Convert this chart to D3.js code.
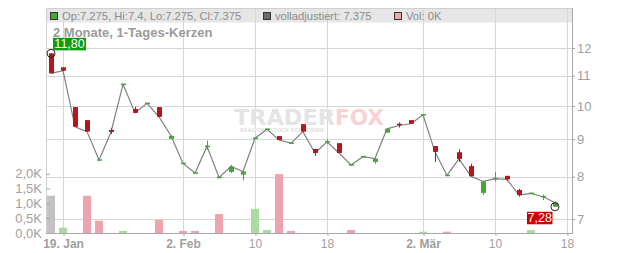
<!DOCTYPE html>
<html>
<head>
<meta charset="utf-8">
<script src="https://cdn.jsdelivr.net/npm/d3@7"></script>
<style>
  body { margin: 0; background: #fff; }
  svg { display: block; font-family: "Liberation Sans", Arial, sans-serif; }
</style>
</head>
<body>
<svg id="chart" width="632" height="253"></svg>
<script>
// trading sessions (the last one, 18.03, has no candle yet; it only carries a tick)
const sessions = ["16.01","19.01","20.01","21.01","22.01","23.01","26.01","27.01","28.01","29.01","30.01",
  "02.02","03.02","04.02","05.02","06.02","09.02","10.02","11.02","12.02","13.02","16.02","17.02","18.02",
  "19.02","20.02","23.02","24.02","25.02","26.02","27.02",
  "02.03","03.03","04.03","05.03","06.03","09.03","10.03","11.03","12.03","13.03","16.03","17.03","18.03"];

const opens  = [11.80,11.29,9.96,9.56,8.43,9.27,10.70,9.90,10.08,9.96,9.01,8.34,8.09,8.79,7.98,8.12,8.05,9.03,9.29,9.09,8.89,9.44,8.73,8.93,8.89,8.30,8.52,8.38,9.19,9.43,9.56,9.72,8.81,8.03,8.64,8.27,7.60,7.95,8.02,7.67,7.59,7.50,7.275];
const highs  = [11.80,11.29,9.96,9.56,8.43,9.32,10.70,9.97,10.08,9.96,9.10,8.34,8.09,8.96,7.98,8.30,8.13,9.03,9.29,9.09,8.89,9.44,8.73,9.00,8.89,8.30,8.52,8.47,9.30,9.49,9.56,9.72,8.81,8.03,8.72,8.33,7.88,8.12,8.02,7.70,7.59,7.56,7.40];
const lows   = [11.08,11.17,9.36,9.22,8.43,9.15,10.70,9.78,10.08,9.66,9.01,8.34,8.09,8.70,7.98,8.09,7.91,9.03,9.29,8.98,8.89,9.22,8.54,8.87,8.62,8.30,8.52,8.33,9.19,9.34,9.45,9.72,8.38,8.03,8.38,8.01,7.55,7.88,7.89,7.51,7.59,7.43,7.275];
const closes = [11.08,11.17,9.36,9.22,8.43,9.21,10.70,9.78,10.08,9.66,9.10,8.34,8.09,8.80,7.98,8.26,8.13,9.03,9.29,8.98,8.89,9.22,8.62,8.93,8.62,8.30,8.52,8.47,9.30,9.40,9.45,9.72,8.65,8.03,8.46,8.01,7.88,7.95,7.93,7.55,7.59,7.51,7.375];
const volumes = [1260,180,0,1260,415,0,70,0,0,440,0,70,70,0,640,0,0,810,100,1990,70,0,0,0,0,100,0,0,0,0,0,45,0,45,0,0,0,0,0,0,100,0,0];

const priceTicks = [7, 8, 9, 10, 11, 12];
const volTicks = [0, 500, 1000, 1500, 2000];
const tickSessions = ["19.01","02.02","10.02","18.02","02.03","10.03","18.03"];
const tickLabels = ["19. Jan","2. Feb","10","18","2. Mär","10","18"];

const title = "2 Monate, 1-Tages-Kerzen";
const legendItems = [
  { text: "Op:7.275, Hi:7.4, Lo:7.275, Cl:7.375", color: "#44a834" },
  { text: "volladjustiert: 7.375", color: "#6a6a6a" },
  { text: "Vol: 0K", color: "#f0a4ac" }
];

const RED = "#b5161c", GREEN = "#43a836";
const VOL_RED = "#eea4ac", VOL_GREEN = "#a9dba2", VOL_GRAY = "#c2c2c2";
const TXT = "#a0a0a0";

const L = 46, R = 572, T = 8, B = 233;
const svg = d3.select("#chart");

const x = d3.scaleLinear().domain([-0.42, sessions.length - 1 + 0.42]).range([L, R]);
const y = d3.scaleLog().domain([7, 12]).range([219, 48]);
const yv = d3.scaleLinear().domain([0, 2000]).range([B, 173.8]);

const candles = closes.map((c, i) => ({ i, o: opens[i], h: highs[i], l: lows[i], c, v: volumes[i] }));

// legend band
svg.append("rect").attr("x", L).attr("y", T).attr("width", R - L).attr("height", 14.5).attr("fill", "#e6e6e6");

// grid
const tickIdx = tickSessions.map((s) => sessions.indexOf(s));
svg.append("g").selectAll("line").data(tickIdx).join("line")
  .attr("x1", (d) => x(d) + 0.5).attr("x2", (d) => x(d) + 0.5)
  .attr("y1", T).attr("y2", B).attr("stroke", "#d6d6d6");
svg.append("g").selectAll("line").data(priceTicks).join("line")
  .attr("x1", L).attr("x2", R)
  .attr("y1", (d) => Math.round(y(d)) + 0.5).attr("y2", (d) => Math.round(y(d)) + 0.5)
  .attr("stroke", "#d6d6d6");

// frame
svg.append("rect").attr("x", L + 0.5).attr("y", T + 0.5).attr("width", R - L).attr("height", B - T)
  .attr("fill", "none").attr("stroke", "#cfcfcf");

// watermark
const wm = svg.append("g").attr("font-family", "'DejaVu Sans', sans-serif").attr("font-weight", "bold");
wm.append("text").attr("x", 234).attr("y", 124.5).attr("font-size", 22).attr("fill", "#e4e4e4")
  .attr("textLength", 101).attr("lengthAdjust", "spacingAndGlyphs").text("TRADER");
wm.append("text").attr("x", 335).attr("y", 124.5).attr("font-size", 22).attr("fill", "#f8d2d4")
  .attr("textLength", 49).attr("lengthAdjust", "spacingAndGlyphs").text("FOX");
wm.append("text").attr("x", 240).attr("y", 132).attr("font-size", 5.5).attr("fill", "#e2e2e2")
  .attr("textLength", 84).attr("lengthAdjust", "spacingAndGlyphs").text("REALTIME STOCK SCREENING");

// volume bars
svg.append("g").selectAll("rect").data(candles.filter((d) => d.v > 0)).join("rect")
  .attr("x", (d) => x(d.i) - 4).attr("width", 8)
  .attr("y", (d) => yv(d.v)).attr("height", (d) => B - yv(d.v))
  .attr("fill", (d) => d.i === 0 ? VOL_GRAY : (d.c >= closes[d.i - 1] ? VOL_GREEN : VOL_RED));

// close line
svg.append("path").datum(candles)
  .attr("d", d3.line().x((d) => x(d.i)).y((d) => y(d.c)))
  .attr("fill", "none").attr("stroke", "#808080").attr("stroke-width", 1.2);

// candles
const cg = svg.append("g").selectAll("g").data(candles).join("g")
  .attr("fill", (d) => d.c >= d.o ? GREEN : RED)
  .attr("stroke", (d) => d.c >= d.o ? GREEN : RED);
cg.append("line")
  .attr("x1", (d) => Math.round(x(d.i)) + 0.5).attr("x2", (d) => Math.round(x(d.i)) + 0.5)
  .attr("y1", (d) => y(d.h)).attr("y2", (d) => y(d.l)).attr("stroke-width", 1);
cg.append("rect")
  .attr("stroke", "none")
  .attr("x", (d) => Math.round(x(d.i)) - 2).attr("width", 5)
  .attr("y", (d) => Math.min(y(d.o), y(d.c)) - (Math.abs(y(d.o) - y(d.c)) < 1.5 ? 0.75 : 0))
  .attr("height", (d) => Math.max(1.5, Math.abs(y(d.o) - y(d.c))));

// axes
const fmtK = (v) => (v / 1000).toFixed(1).replace(".", ",") + "K";
const ay = svg.append("g").attr("transform", `translate(${R},0)`)
  .call(d3.axisRight(y).tickValues(priceTicks).tickFormat(d3.format("d")).tickSizeInner(3).tickSizeOuter(0).tickPadding(2));
const av = svg.append("g").attr("transform", `translate(${L},0)`)
  .call(d3.axisLeft(yv).tickValues(volTicks).tickFormat(fmtK).tickSizeInner(-4).tickSizeOuter(0).tickPadding(4));
const ax = svg.append("g").attr("transform", `translate(0,${B})`)
  .call(d3.axisBottom(x).tickValues(tickIdx).tickFormat((d, k) => tickLabels[k]).tickSizeInner(3).tickSizeOuter(0).tickPadding(3));
ay.select(".domain").attr("d", `M0.5,${T}V${B}`);
av.select(".domain").remove();
ax.select(".domain").attr("d", `M${L},0.5H${R + 1}`);
[ay, av, ax].forEach((g) => {
  g.attr("font-family", null).attr("font-size", null);
  g.selectAll(".domain, .tick line").attr("stroke", "#a8a8a8");
  g.selectAll("text").attr("fill", TXT).attr("font-size", 13);
});
ax.selectAll("text").attr("font-size", 12)
  .attr("font-weight", (d, k) => /[A-Za-zä]/.test(tickLabels[k]) ? "bold" : "normal");
ax.selectAll(".tick line").attr("transform", "translate(0.5,0)");

// legend
let lx = L + 4;
const legendX = [L + 4, 263, 394];
legendItems.forEach((it, k) => {
  lx = legendX[k];
  svg.append("rect").attr("x", lx + 0.5).attr("y", 12.5).attr("width", 7).attr("height", 7)
    .attr("fill", it.color).attr("stroke", "#333");
  svg.append("text").attr("x", lx + 12).attr("y", 19.5).attr("font-size", 11.2).attr("fill", "#8c8c8c").text(it.text);
});

svg.append("text").attr("x", 53).attr("y", 37).attr("font-size", 13).attr("font-weight", "bold")
  .attr("fill", "#9a9a9a").text(title);

// max / min markers
const fmtP = (v) => (Math.round(v * 100 + 1e-6) / 100).toFixed(2).replace(".", ",");
const iMax = d3.maxIndex(highs), iMin = d3.minIndex(lows);
const hx = x(iMax), hy = y(highs[iMax]);
const lxm = x(iMin), ly = y(lows[iMin]);
svg.append("circle").attr("cx", hx).attr("cy", hy).attr("r", 4).attr("fill", "none").attr("stroke", "#222");
svg.append("circle").attr("cx", lxm).attr("cy", ly).attr("r", 4).attr("fill", "none").attr("stroke", "#222");
svg.append("rect").attr("x", hx + 2).attr("y", hy - 15.5).attr("width", 33).attr("height", 12.5).attr("fill", "#0d9a0d");
svg.append("text").attr("x", hx + 18.5).attr("y", hy - 5.5).attr("text-anchor", "middle")
  .attr("font-size", 12.5).attr("fill", "#fff").text(fmtP(highs[iMax]));
svg.append("rect").attr("x", lxm - 28).attr("y", ly + 5).attr("width", 25.5).attr("height", 12.5).attr("fill", "#cc0000");
svg.append("text").attr("x", lxm - 15.25).attr("y", ly + 15).attr("text-anchor", "middle")
  .attr("font-size", 12.5).attr("fill", "#fff").text(fmtP(lows[iMin]));
</script>
</body>
</html>
